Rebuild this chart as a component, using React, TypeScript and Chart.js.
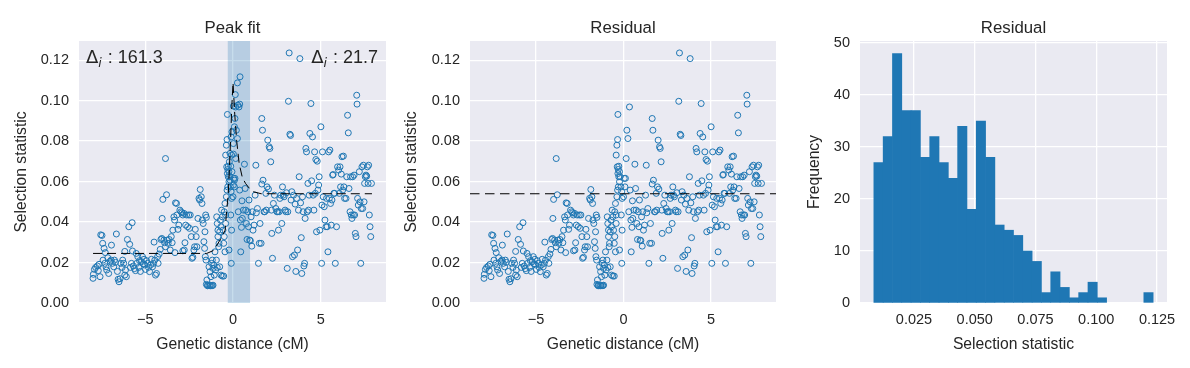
import React, { useEffect, useRef } from 'react';
import { Chart, registerables } from 'chart.js';

Chart.register(...registerables);

const FONT = '"Liberation Sans", Arial, sans-serif';
const MATH_FONT = '"DejaVu Sans", sans-serif';
const TEXT = '#262626';
const BG = '#EAEAF2';
const BLUE = '#1f77b4';

// ---------- data: scatter of selection statistic vs genetic distance ----------
const leftFlank: [number, number][] = [
  [-7.98, 0.0122], [-7.96, 0.0142], [-7.9, 0.0166], [-7.83, 0.0176], [-7.73, 0.0183], [-7.68, 0.016],
  [-7.58, 0.013], [-7.64, 0.0191], [-7.54, 0.0337], [-7.47, 0.0334], [-7.43, 0.0295], [-7.35, 0.027],
  [-7.28, 0.0249], [-7.41, 0.0212], [-7.31, 0.0196], [-7.24, 0.0179], [-7.2, 0.0163], [-7.14, 0.0224],
  [-7.09, 0.0146], [-7.01, 0.0206], [-6.95, 0.0212], [-6.93, 0.0286], [-6.88, 0.0196], [-6.8, 0.0179],
  [-6.76, 0.0212], [-6.7, 0.0201], [-6.65, 0.0341], [-6.59, 0.0156], [-6.55, 0.0117], [-6.5, 0.0105],
  [-6.44, 0.012], [-6.4, 0.0196], [-6.32, 0.0176], [-6.29, 0.0212], [-6.23, 0.0196], [-6.17, 0.0255],
  [-6.13, 0.0163], [-6.08, 0.013], [-6.17, 0.0138], [-6.02, 0.0314], [-5.94, 0.0377], [-5.89, 0.029],
  [-5.85, 0.0176], [-5.79, 0.0196], [-5.75, 0.0397], [-5.73, 0.0257], [-5.68, 0.0183], [-5.62, 0.017],
  [-5.56, 0.016], [-5.52, 0.0245], [-5.49, 0.0196], [-5.43, 0.0229], [-5.37, 0.0176], [-5.33, 0.0209],
  [-5.28, 0.0156], [-5.22, 0.0204], [-5.16, 0.0229], [-5.12, 0.0194], [-5.07, 0.0216], [-5.03, 0.0188],
  [-4.99, 0.0166], [-4.93, 0.0209], [-4.88, 0.0196], [-4.82, 0.0176], [-4.76, 0.0155], [-4.7, 0.0188],
  [-4.65, 0.0216], [-4.59, 0.0179], [-4.53, 0.0196], [-4.5, 0.0301], [-4.46, 0.0212], [-4.42, 0.0138],
  [-4.36, 0.0146], [-4.3, 0.0229], [-4.27, 0.0196], [-4.21, 0.0242], [-4.15, 0.0265], [-4.11, 0.0314],
  [-4.06, 0.0319], [-4.04, 0.0418], [-4.0, 0.0512], [-3.94, 0.0311], [-3.9, 0.0298], [-3.85, 0.0714],
  [-3.79, 0.0535], [-3.85, 0.0278], [-3.75, 0.0311], [-3.7, 0.0295], [-3.64, 0.0314], [-3.58, 0.0262],
  [-3.52, 0.0328], [-3.47, 0.0298], [-3.43, 0.036], [-3.37, 0.0426], [-3.33, 0.041], [-3.28, 0.0495],
  [-3.22, 0.0492], [-3.2, 0.0435], [-3.31, 0.0249], [-3.14, 0.0364], [-3.09, 0.0385], [-3.03, 0.0459],
  [-2.97, 0.0451], [-2.91, 0.0446], [-2.86, 0.0435], [-2.8, 0.0443], [-2.86, 0.0258], [-2.78, 0.0262],
  [-2.74, 0.0298], [-2.7, 0.0385], [-2.65, 0.0435], [-2.59, 0.0377], [-2.53, 0.0435], [-2.48, 0.0369],
  [-2.44, 0.0435], [-2.38, 0.0328], [-2.34, 0.0221], [-2.29, 0.0226], [-2.23, 0.0262], [-2.19, 0.0278],
  [-2.15, 0.0364], [-2.1, 0.0328], [-2.06, 0.0278], [-2.0, 0.0418], [-1.94, 0.0517], [-1.9, 0.0509],
  [-1.87, 0.0561], [-1.81, 0.0525], [-1.77, 0.0492], [-1.75, 0.041], [-1.7, 0.0393], [-1.66, 0.0303],
  [-1.62, 0.027], [-1.58, 0.0229], [-1.54, 0.0212], [-1.6, 0.0352], [-1.56, 0.0435], [-1.52, 0.0423],
];

const sweepCore: [number, number][] = [
  [-1.52, 0.0092], [-1.45, 0.0088], [-1.37, 0.0086], [-1.3, 0.0088], [-1.22, 0.0086], [-1.14, 0.0088],
  [-1.45, 0.0085], [-1.3, 0.0085], [-1.18, 0.0086], [-1.49, 0.0114],
  [-1.37, 0.0179], [-1.31, 0.0155], [-1.26, 0.013], [-1.22, 0.0196], [-1.18, 0.0212], [-1.14, 0.0171],
  [-1.1, 0.0188], [-1.07, 0.0138], [-1.03, 0.0253], [-0.99, 0.0163], [-0.95, 0.0212], [-0.9, 0.0176],
  [-0.86, 0.036], [-0.82, 0.0278], [-0.93, 0.0426], [-0.9, 0.0393], [-0.86, 0.0328], [-0.8, 0.0295],
  [-0.76, 0.0352], [-0.72, 0.041], [-0.69, 0.0377], [-0.65, 0.0459], [-0.61, 0.0426], [-0.57, 0.036],
  [-0.53, 0.0295], [-0.5, 0.0328], [-0.46, 0.0253], [-0.42, 0.0393], [-0.76, 0.0179], [-0.69, 0.0138],
  [-0.61, 0.0133], [-0.53, 0.0133],
  [-0.5, 0.0451], [-0.46, 0.0492], [-0.42, 0.0435], [-0.38, 0.0525], [-0.34, 0.0558], [-0.3, 0.0574],
  [-0.27, 0.0624], [-0.23, 0.0599], [-0.32, 0.064], [-0.36, 0.0673], [-0.42, 0.0731], [-0.38, 0.078],
  [-0.34, 0.0808], [-0.3, 0.066], [-0.27, 0.0676], [-0.23, 0.0649], [-0.19, 0.0624], [-0.15, 0.0574],
  [-0.11, 0.055], [-0.08, 0.0517], [-0.13, 0.0435], [-0.08, 0.036], [-0.23, 0.0262], [-0.32, 0.0932],
  [-0.1, 0.0196],
];

const rightFlank: [number, number][] = [
  [0.0, 0.0525], [0.04, 0.0616], [0.08, 0.0574], [0.11, 0.0616], [0.15, 0.0714], [0.19, 0.0854],
  [0.25, 0.0813], [0.3, 0.0451], [0.34, 0.0969], [0.38, 0.0558], [0.42, 0.041], [0.44, 0.0253],
  [0.48, 0.0374], [0.51, 0.0505], [0.53, 0.0418], [0.59, 0.0459], [0.65, 0.0686], [0.69, 0.0566],
  [0.72, 0.0459], [0.76, 0.0393], [0.8, 0.0314], [0.84, 0.0451], [0.88, 0.0377], [0.91, 0.0509],
  [0.95, 0.0311], [0.99, 0.0308], [1.03, 0.0426], [1.07, 0.0281], [1.1, 0.0451], [1.14, 0.036],
  [1.2, 0.0385], [1.26, 0.0533], [1.3, 0.0681], [1.33, 0.0446], [1.39, 0.0467], [1.45, 0.0196],
  [1.5, 0.0295], [1.54, 0.0393], [1.6, 0.0295], [1.64, 0.0588], [1.64, 0.0912], [1.68, 0.0854],
  [1.71, 0.0607], [1.77, 0.0451], [1.81, 0.0451], [1.87, 0.0542], [1.9, 0.0459], [1.94, 0.0574],
  [1.98, 0.0805], [2.02, 0.0563], [2.06, 0.0772], [2.1, 0.0764], [2.15, 0.0698], [2.19, 0.0459],
  [2.21, 0.0344], [2.25, 0.0221], [2.3, 0.0492], [2.36, 0.0533], [2.44, 0.0467], [2.5, 0.0451],
  [2.55, 0.0451], [2.59, 0.036], [2.63, 0.0451], [2.67, 0.0517], [2.72, 0.0533], [2.78, 0.0393],
  [2.82, 0.0574], [2.86, 0.0533], [2.91, 0.0525], [2.97, 0.0459], [3.01, 0.0451], [3.05, 0.0545],
  [3.09, 0.0171], [3.12, 0.0451], [3.16, 0.0997], [3.2, 0.1236], [3.24, 0.0834], [3.28, 0.0828],
  [3.31, 0.0509], [3.35, 0.055], [3.39, 0.0229], [3.45, 0.0533], [3.5, 0.0237], [3.54, 0.0489],
  [3.58, 0.0156], [3.62, 0.0517], [3.68, 0.0262], [3.73, 0.0459], [3.77, 0.0624], [3.81, 0.1208],
  [3.85, 0.0495], [3.89, 0.0323], [3.92, 0.0146], [3.96, 0.0525], [4.0, 0.0451], [4.04, 0.0183],
  [4.08, 0.0196], [4.11, 0.0418], [4.15, 0.0764], [4.19, 0.0747], [4.23, 0.0451], [4.27, 0.0591],
  [4.3, 0.0459], [4.34, 0.0533], [4.38, 0.0838], [4.44, 0.0986], [4.48, 0.0604], [4.53, 0.0821],
  [4.57, 0.0533], [4.61, 0.0459], [4.65, 0.0747], [4.69, 0.0542], [4.72, 0.0709], [4.76, 0.0352],
  [4.8, 0.0701], [4.84, 0.0558], [4.88, 0.0583], [4.91, 0.0624], [4.95, 0.036], [5.01, 0.0871],
  [5.05, 0.0196], [5.07, 0.0484], [5.1, 0.0747], [5.14, 0.0525], [5.2, 0.0476], [5.24, 0.041],
  [5.3, 0.0377], [5.33, 0.0517], [5.37, 0.0377], [5.41, 0.0253], [5.45, 0.0747], [5.49, 0.0517],
  [5.52, 0.0756], [5.56, 0.0492], [5.6, 0.0385], [5.64, 0.0509], [5.68, 0.0632], [5.71, 0.0635],
  [5.75, 0.0542], [5.79, 0.0542], [5.83, 0.0196], [5.9, 0.0377], [5.96, 0.0673], [6.02, 0.0657],
  [6.06, 0.0542], [6.1, 0.0673], [6.13, 0.0574], [6.17, 0.0637], [6.21, 0.0723], [6.25, 0.0558],
  [6.29, 0.0726], [6.32, 0.0574], [6.36, 0.0517], [6.44, 0.0517], [6.48, 0.0624], [6.53, 0.0928],
  [6.57, 0.0841], [6.61, 0.0566], [6.67, 0.0451], [6.7, 0.0624], [6.74, 0.0435], [6.78, 0.0418],
  [6.82, 0.0624], [6.86, 0.0435], [6.9, 0.0632], [6.93, 0.0435], [6.97, 0.0344], [7.01, 0.0328],
  [7.05, 0.1027], [7.07, 0.0983], [7.1, 0.0517], [7.14, 0.0484], [7.2, 0.0649], [7.24, 0.05],
  [7.28, 0.0196], [7.31, 0.0467], [7.35, 0.0673], [7.39, 0.0467], [7.43, 0.0681], [7.47, 0.05],
  [7.5, 0.0591], [7.54, 0.0624], [7.58, 0.0632], [7.62, 0.0627], [7.66, 0.0673], [7.7, 0.0591],
  [7.73, 0.0681], [7.77, 0.0435], [7.81, 0.0377], [7.85, 0.0328], [7.89, 0.0591],
];

// points that sit on the peak before the fitted peak is removed (Peak fit panel only)
const peakPoints: [number, number][] = [
  [0.4, 0.1118], [0.25, 0.1088], [0.13, 0.103], [0.27, 0.0978], [0.38, 0.0983], [0.02, 0.0973],
  [0.15, 0.0969], [0.11, 0.0912], [0.08, 0.0871], [-0.06, 0.0846], [-0.11, 0.0821], [0.02, 0.0788],
  [-0.17, 0.0739], [-0.08, 0.0731], [0.02, 0.0736], [-0.21, 0.0698], [-0.13, 0.0676], [-0.06, 0.0649],
  [-0.17, 0.0607], [0.02, 0.0583], [0.08, 0.0607],
];

// fitted peak curve
const fitX = [-7.98, -1.5, -1.1, -0.75, -0.45, -0.36, -0.27, -0.17, -0.07, 0, 0.1, 0.21, 0.35, 0.53, 0.72, 0.95, 1.16, 1.6, 7.92];
const fitY = [0.0245, 0.0245, 0.026, 0.031, 0.036, 0.046, 0.054, 0.074, 0.097, 0.109, 0.093, 0.08, 0.069, 0.062, 0.059, 0.0565, 0.055, 0.054, 0.054];

const peakBand = [-0.3, 0.97];
const residualLevel = 0.054;
const deltaLeft = '161.3';
const deltaRight = '21.7';

// histogram of residual selection statistic
const histCounts = [27, 32, 48, 37, 37, 28, 32, 27, 24, 34, 18, 35, 28, 15, 14, 13, 10, 8, 2, 6, 3, 1, 2, 4, 1, 0, 0, 0, 0, 2];
const histMin = 0.0085;
const histMax = 0.1234;

// axes
const distTicks = [-5, 0, 5];
const statTicks = [0, 0.02, 0.04, 0.06, 0.08, 0.1, 0.12];
const histXTicks = [0.025, 0.05, 0.075, 0.1, 0.125];
const histYTicks = [0, 10, 20, 30, 40, 50];
const distRange = [-8.78, 8.72];
const statRange = [0, 0.1295];
const histXRange = [0.0028, 0.1291];
const histYRange = [0, 50.4];

const TICK_SIZE = 14.5;
const LABEL_SIZE = 15.7;
const TITLE_SIZE = 16.8;
const H = 368;

const fmtDist = (v: number) => (v < 0 ? '\u2212' + Math.abs(v) : String(v));

function axis(opts: {
  range: number[];
  ticks: number[];
  fmt: (v: number) => string;
  title: string;
  titlePad: any;
  size: number;
  horizontal: boolean;
  tickPad: number;
}) {
  return {
    type: 'linear',
    min: opts.range[0],
    max: opts.range[1],
    offset: false,
    grid: { color: '#ffffff', lineWidth: 1.3, drawTicks: false, offset: false },
    border: { display: false },
    ticks: {
      color: TEXT,
      font: { family: FONT, size: TICK_SIZE },
      padding: opts.tickPad,
      autoSkip: false,
      maxRotation: 0,
      callback: (v: any) => opts.fmt(Number(v)),
    },
    afterBuildTicks: (s: any) => {
      s.ticks = opts.ticks.map((v) => ({ value: v }));
    },
    afterFit: (s: any) => {
      if (opts.horizontal) s.height = opts.size;
      else s.width = opts.size;
    },
    title: {
      display: true,
      text: opts.title,
      color: TEXT,
      font: { family: FONT, size: LABEL_SIZE },
      padding: opts.titlePad,
    },
  };
}

function drawDelta(ctx: CanvasRenderingContext2D, value: string, x: number, baseline: number, alignRight: boolean) {
  const big = `18px ${MATH_FONT}`;
  const sub = `italic 12.5px ${MATH_FONT}`;
  const txt = `18px ${FONT}`;
  ctx.font = big;
  const wD = ctx.measureText('\u0394').width;
  ctx.font = sub;
  const wI = ctx.measureText('i').width + 1;
  ctx.font = txt;
  const rest = ' : ' + value;
  const wT = ctx.measureText(rest).width;
  const total = wD + wI + wT;
  const start = alignRight ? x - total : x;
  ctx.fillStyle = TEXT;
  ctx.textAlign = 'left';
  ctx.textBaseline = 'alphabetic';
  ctx.font = big;
  ctx.fillText('\u0394', start, baseline);
  ctx.font = sub;
  ctx.fillText('i', start + wD, baseline + 4);
  ctx.font = txt;
  ctx.fillText(rest, start + wD + wI, baseline);
}

function decor(cfg: { title: string; band?: number[]; hline?: number; deltas?: boolean }) {
  return {
    id: 'decor',
    beforeDraw(chart: any) {
      const { ctx, chartArea: a } = chart;
      ctx.save();
      ctx.fillStyle = BG;
      ctx.fillRect(a.left, a.top, a.right - a.left, a.bottom - a.top);
      ctx.restore();
    },
    beforeDatasetsDraw(chart: any) {
      if (!cfg.band) return;
      const { ctx, chartArea: a, scales } = chart;
      const x1 = scales.x.getPixelForValue(cfg.band[0]);
      const x2 = scales.x.getPixelForValue(cfg.band[1]);
      ctx.save();
      ctx.fillStyle = 'rgba(31,119,180,0.25)';
      ctx.fillRect(x1, a.top, x2 - x1, a.bottom - a.top);
      ctx.restore();
    },
    afterDatasetsDraw(chart: any) {
      if (cfg.hline == null) return;
      const { ctx, chartArea: a, scales } = chart;
      const y = scales.y.getPixelForValue(cfg.hline);
      ctx.save();
      ctx.beginPath();
      ctx.rect(a.left, a.top, a.right - a.left, a.bottom - a.top);
      ctx.clip();
      ctx.strokeStyle = '#000';
      ctx.lineWidth = 1.1;
      ctx.setLineDash([9.5, 5.5]);
      ctx.beginPath();
      ctx.moveTo(a.left, y);
      ctx.lineTo(a.right, y);
      ctx.stroke();
      ctx.restore();
    },
    afterDraw(chart: any) {
      const { ctx, chartArea: a } = chart;
      ctx.save();
      ctx.fillStyle = TEXT;
      ctx.font = `${TITLE_SIZE}px ${FONT}`;
      ctx.textAlign = 'center';
      ctx.textBaseline = 'alphabetic';
      ctx.fillText(cfg.title, (a.left + a.right) / 2, 33);
      if (cfg.deltas) {
        drawDelta(ctx, deltaLeft, a.left + 7, 63, false);
        drawDelta(ctx, deltaRight, a.right - 8, 63, true);
      }
      ctx.restore();
    },
  };
}

const toXY = (pts: [number, number][]) => pts.map(([x, y]) => ({ x, y }));
const basePoints = [...leftFlank, ...sweepCore, ...rightFlank];

const scatterStyle = {
  type: 'scatter',
  backgroundColor: 'rgba(0,0,0,0)',
  borderColor: BLUE,
  pointRadius: 3,
  pointBorderWidth: 1,
  pointHoverRadius: 3,
};

function peakFitConfig(): any {
  return {
    type: 'scatter',
    data: {
      datasets: [
        {
          type: 'scatter',
          data: fitX.map((x, i) => ({ x, y: fitY[i] })),
          showLine: true,
          borderColor: '#000',
          borderWidth: 1,
          borderDash: [9, 5],
          pointRadius: 0,
          tension: 0,
          fill: false,
        },
        { ...scatterStyle, data: toXY([...basePoints, ...peakPoints]) },
      ],
    },
    options: {
      animation: false,
      responsive: false,
      devicePixelRatio: 1,
      events: [],
      layout: { padding: { left: 0, right: 10, top: 41, bottom: 0 } },
      plugins: { legend: { display: false }, tooltip: { enabled: false } },
      scales: {
        x: axis({ range: distRange, ticks: distTicks, fmt: fmtDist, title: 'Genetic distance (cM)', titlePad: { top: 0, bottom: 13.7 }, size: 65, horizontal: true, tickPad: 8 }),
        y: axis({ range: statRange, ticks: statTicks, fmt: (v) => v.toFixed(2), title: 'Selection statistic', titlePad: { top: 12.7, bottom: 0 }, size: 79, horizontal: false, tickPad: 10 }),
      },
    },
    plugins: [decor({ title: 'Peak fit', band: peakBand, deltas: true })],
  };
}

function residualConfig(): any {
  return {
    type: 'scatter',
    data: { datasets: [{ ...scatterStyle, data: toXY(basePoints) }] },
    options: {
      animation: false,
      responsive: false,
      devicePixelRatio: 1,
      events: [],
      layout: { padding: { left: 0, right: 14, top: 41, bottom: 0 } },
      plugins: { legend: { display: false }, tooltip: { enabled: false } },
      scales: {
        x: axis({ range: distRange, ticks: distTicks, fmt: fmtDist, title: 'Genetic distance (cM)', titlePad: { top: 0, bottom: 13.7 }, size: 65, horizontal: true, tickPad: 8 }),
        y: axis({ range: statRange, ticks: statTicks, fmt: (v) => v.toFixed(2), title: 'Selection statistic', titlePad: { top: 6.7, bottom: 0 }, size: 74, horizontal: false, tickPad: 10 }),
      },
    },
    plugins: [decor({ title: 'Residual', hline: residualLevel })],
  };
}

function histConfig(): any {
  const binWidth = (histMax - histMin) / histCounts.length;
  return {
    type: 'bar',
    data: {
      datasets: [
        {
          // empty bins are kept for uniform bar width but not drawn
          data: histCounts.map((c, i) => ({ x: histMin + (i + 0.5) * binWidth, y: c > 0 ? c : null })),
          backgroundColor: BLUE,
          borderWidth: 0,
          barPercentage: 1,
          categoryPercentage: 1,
        },
      ],
    },
    options: {
      animation: false,
      responsive: false,
      devicePixelRatio: 1,
      events: [],
      layout: { padding: { left: 0, right: 23, top: 41, bottom: 0 } },
      plugins: { legend: { display: false }, tooltip: { enabled: false } },
      scales: {
        x: axis({ range: histXRange, ticks: histXTicks, fmt: (v) => v.toFixed(3), title: 'Selection statistic', titlePad: { top: 0, bottom: 13.7 }, size: 65, horizontal: true, tickPad: 8 }),
        y: axis({ range: histYRange, ticks: histYTicks, fmt: (v) => String(v), title: 'Frequency', titlePad: { top: 15.7, bottom: 0 }, size: 70, horizontal: false, tickPad: 10 }),
      },
    },
    plugins: [decor({ title: 'Residual' })],
  };
}

function Panel({ left, width, build }: { left: number; width: number; build: () => any }) {
  const ref = useRef<HTMLCanvasElement | null>(null);
  useEffect(() => {
    if (!ref.current) return;
    const chart = new Chart(ref.current, build());
    return () => chart.destroy();
  }, []);
  return (
    <canvas
      ref={ref}
      width={width}
      height={H}
      style={{ position: 'absolute', left, top: 0, width, height: H, display: 'block' }}
    />
  );
}

export default function App() {
  return (
    <div style={{ position: 'fixed', left: 0, top: 0, width: 1190, height: H, background: '#ffffff', overflow: 'hidden' }}>
      <Panel left={0} width={396} build={peakFitConfig} />
      <Panel left={396} width={394} build={residualConfig} />
      <Panel left={790} width={400} build={histConfig} />
    </div>
  );
}
